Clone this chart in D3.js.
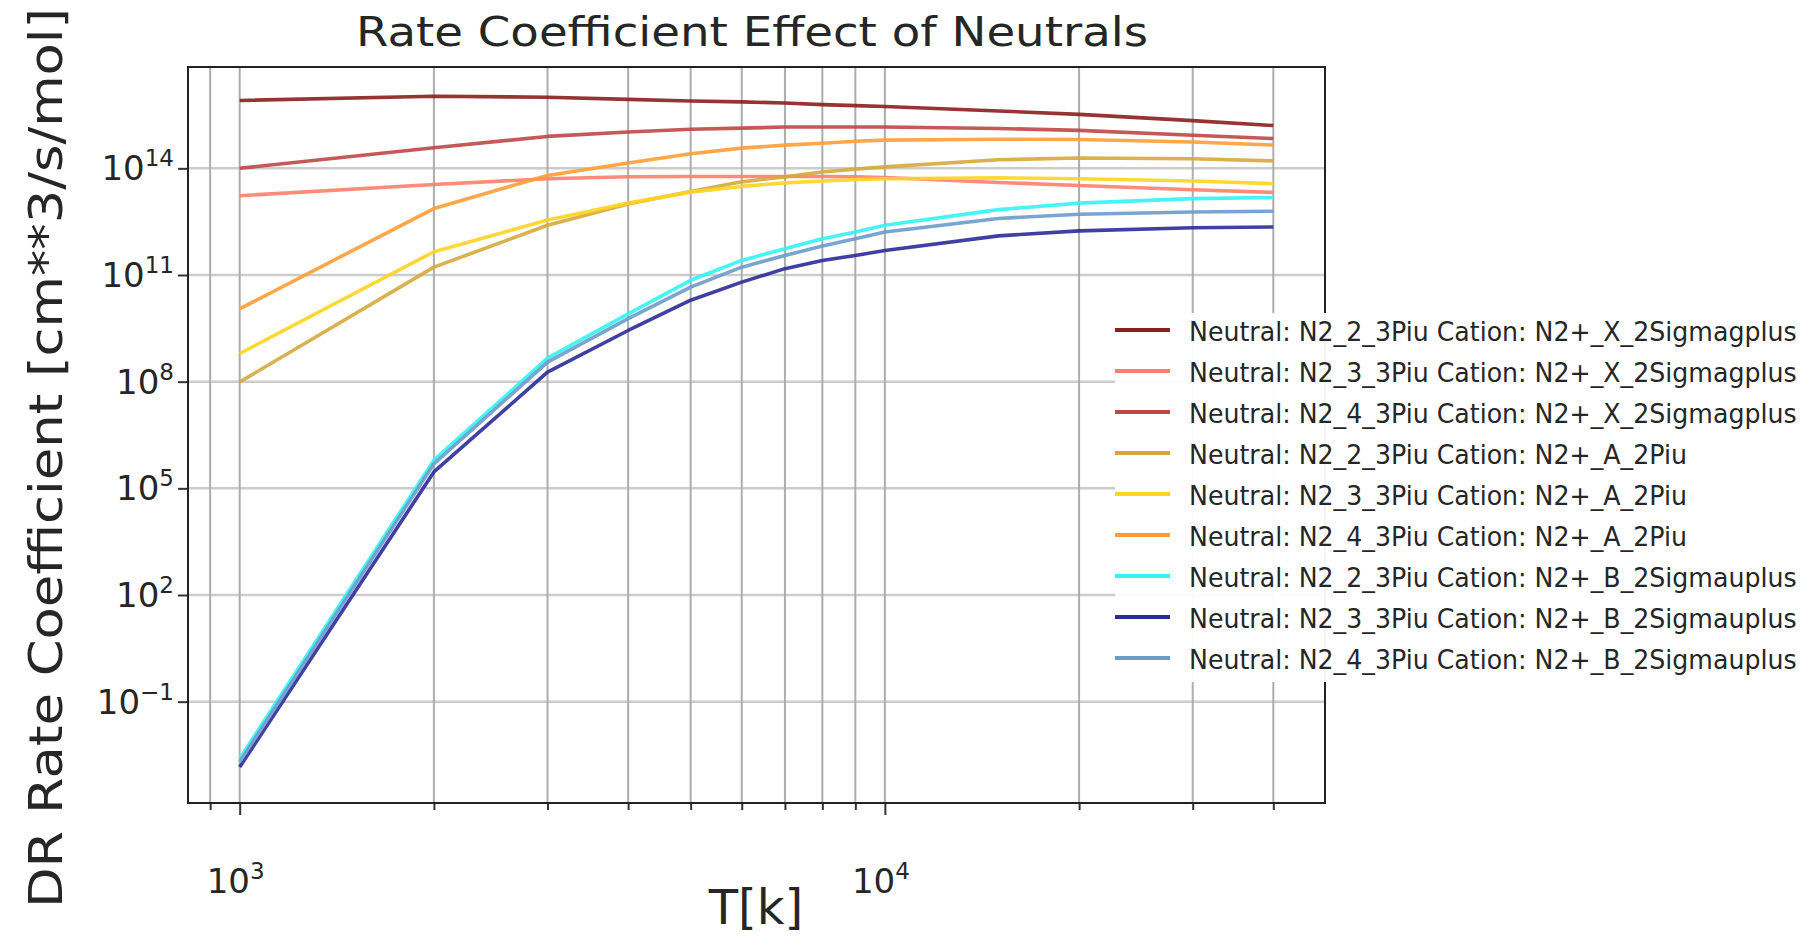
<!DOCTYPE html>
<html>
<head>
<meta charset="utf-8">
<script src="https://cdn.jsdelivr.net/npm/d3@7"></script>
<style>
  body { margin: 0; background: #fff; }
  text { font-family: "DejaVu Sans", sans-serif; fill: #262626; }
</style>
</head>
<body>
<svg id="chart" width="1813" height="937"></svg>
<script>
// temperatures [K]
const temps = [1000, 2000, 3000, 4000, 5000, 6000, 7000, 8000, 9000, 10000, 15000, 20000, 30000, 40000];

// DR rate coefficients, one array per neutral/cation pair
const n2_2_X = [8.1e15, 1.07e16, 1.0e16, 8.7e15, 7.8e15, 7.4e15, 6.9e15, 6.2e15, 5.8e15, 5.5e15, 4.1e15, 3.3e15, 2.2e15, 1.6e15];
const n2_3_X = [1.7e13, 3.5e13, 5.1e13, 5.8e13, 5.9e13, 5.9e13, 5.9e13, 5.9e13, 5.8e13, 5.5e13, 4.0e13, 3.3e13, 2.5e13, 2.1e13];
const n2_4_X = [1.0e14, 3.8e14, 7.9e14, 1.05e15, 1.26e15, 1.35e15, 1.45e15, 1.45e15, 1.45e15, 1.45e15, 1.32e15, 1.17e15, 8.5e14, 6.9e14];
const n2_2_A = [9.8e7, 1.66e11, 2.5e12, 1.0e13, 2.24e13, 4.17e13, 5.75e13, 7.9e13, 9.5e13, 1.1e14, 1.74e14, 1.95e14, 1.86e14, 1.62e14];
const n2_3_A = [6.2e8, 4.5e11, 3.5e12, 1.05e13, 2.14e13, 3.1e13, 3.9e13, 4.4e13, 4.8e13, 5.1e13, 5.4e13, 5.1e13, 4.4e13, 3.7e13];
const n2_4_A = [1.12e10, 7.4e12, 6.3e13, 1.41e14, 2.57e14, 3.7e14, 4.5e14, 5.1e14, 5.75e14, 6.2e14, 6.6e14, 6.5e14, 5.5e14, 4.5e14];
const n2_2_B = [2.5e-3, 6.2e5, 4.6e8, 8.1e9, 7.1e10, 2.57e11, 5.5e11, 1.05e12, 1.62e12, 2.5e12, 6.9e12, 1.05e13, 1.41e13, 1.51e13];
const n2_3_B = [1.45e-3, 2.9e5, 1.86e8, 2.75e9, 1.95e10, 6.3e10, 1.51e11, 2.57e11, 3.55e11, 4.9e11, 1.26e12, 1.74e12, 2.14e12, 2.24e12];
const n2_4_B = [2.0e-3, 4.9e5, 3.55e8, 5.9e9, 4.57e10, 1.66e11, 3.55e11, 6.5e11, 1.05e12, 1.62e12, 3.9e12, 5.1e12, 5.9e12, 6.2e12];

const seriesNames = [
  "Neutral: N2_2_3Piu Cation: N2+_X_2Sigmagplus",
  "Neutral: N2_3_3Piu Cation: N2+_X_2Sigmagplus",
  "Neutral: N2_4_3Piu Cation: N2+_X_2Sigmagplus",
  "Neutral: N2_2_3Piu Cation: N2+_A_2Piu",
  "Neutral: N2_3_3Piu Cation: N2+_A_2Piu",
  "Neutral: N2_4_3Piu Cation: N2+_A_2Piu",
  "Neutral: N2_2_3Piu Cation: N2+_B_2Sigmauplus",
  "Neutral: N2_3_3Piu Cation: N2+_B_2Sigmauplus",
  "Neutral: N2_4_3Piu Cation: N2+_B_2Sigmauplus"
];
const seriesValues = [n2_2_X, n2_3_X, n2_4_X, n2_2_A, n2_3_A, n2_4_A, n2_2_B, n2_3_B, n2_4_B];
const seriesColors = ["#8b1d1d", "#ff7f6c", "#bf4646", "#d6a83c", "#ffd422", "#ff9d36", "#33f3f3", "#2b2b98", "#6b9bcb"];

const xMajor = [1e3, 1e4];
const xMajorExp = ["3", "4"];
const xMinor = [900, 2000, 3000, 4000, 5000, 6000, 7000, 8000, 9000, 20000, 30000, 40000];
const yMajor = [1e-1, 1e2, 1e5, 1e8, 1e11, 1e14];
const yMajorExp = ["\u22121", "2", "5", "8", "11", "14"];

const plotLeft = 188, plotRight = 1325, plotTop = 67, plotBottom = 803;

const svg = d3.select("#chart");

// log axes with matplotlib-like 5% margins
const lx = [Math.log10(d3.min(temps)), Math.log10(d3.max(temps))];
const padX = (lx[1] - lx[0]) * 0.05;
const x = d3.scaleLog()
  .domain([Math.pow(10, lx[0] - padX), Math.pow(10, lx[1] + padX)])
  .range([plotLeft, plotRight]);

const y = d3.scaleLog()
  .domain([Math.pow(10, -3.85), Math.pow(10, 16.85)])
  .range([plotBottom, plotTop]);

// grid
const grid = svg.append("g");
grid.selectAll(".gy")
  .data(yMajor)
  .enter()
  .append("line")
  .attr("x1", plotLeft).attr("x2", plotRight)
  .attr("y1", d => y(d)).attr("y2", d => y(d))
  .attr("stroke", "#cccccc")
  .attr("stroke-width", 2.5);
grid.selectAll(".gx")
  .data(xMajor.concat(xMinor))
  .enter()
  .append("line")
  .attr("x1", d => x(d)).attr("x2", d => x(d))
  .attr("y1", plotTop).attr("y2", plotBottom)
  .attr("stroke", "#adadad")
  .attr("stroke-width", 2);

// axes (ticks only, labels drawn separately for superscripts)
const xAxisMajor = svg.append("g")
  .attr("transform", "translate(0," + plotBottom + ")")
  .call(d3.axisBottom(x).tickValues(xMajor).tickSize(12).tickFormat(""));
const xAxisMinor = svg.append("g")
  .attr("transform", "translate(0," + plotBottom + ")")
  .call(d3.axisBottom(x).tickValues(xMinor).tickSize(7).tickFormat(""));
const yAxis = svg.append("g")
  .attr("transform", "translate(" + plotLeft + ",0)")
  .call(d3.axisLeft(y).tickValues(yMajor).tickSize(10).tickFormat(""));
[xAxisMajor, xAxisMinor, yAxis].forEach(a => {
  a.select(".domain").remove();
  a.selectAll("line").attr("stroke", "#333").attr("stroke-width", 2);
});

// tick labels
const xl = svg.selectAll(".xl")
  .data(xMajor)
  .enter()
  .append("text")
  .attr("x", d => x(d) - 4)
  .attr("y", 893)
  .attr("text-anchor", "middle")
  .attr("font-size", 34);
xl.append("tspan").text("10");
xl.append("tspan").attr("font-size", 23).attr("dy", -14).text((d, i) => xMajorExp[i]);

const yl = svg.selectAll(".yl")
  .data(yMajor)
  .enter()
  .append("text")
  .attr("x", 174)
  .attr("y", d => y(d) + 12)
  .attr("text-anchor", "end")
  .attr("font-size", 34);
yl.append("tspan").text("10");
yl.append("tspan").attr("font-size", 23).attr("dy", -14).text((d, i) => yMajorExp[i]);

// lines
const line = d3.line()
  .x((d, i) => x(temps[i]))
  .y(d => y(d));

svg.append("g")
  .selectAll("path")
  .data(seriesValues)
  .enter()
  .append("path")
  .attr("d", d => line(d))
  .attr("fill", "none")
  .attr("stroke", (d, i) => seriesColors[i])
  .attr("stroke-width", 3.6)
  .attr("stroke-linejoin", "round")
  .attr("stroke-opacity", 0.9);

// frame
svg.append("rect")
  .attr("x", plotLeft).attr("y", plotTop)
  .attr("width", plotRight - plotLeft).attr("height", plotBottom - plotTop)
  .attr("fill", "none")
  .attr("stroke", "#222")
  .attr("stroke-width", 2);

// titles
svg.append("text")
  .attr("x", 752).attr("y", 46)
  .attr("text-anchor", "middle")
  .attr("font-size", 40)
  .attr("textLength", 792)
  .attr("lengthAdjust", "spacingAndGlyphs")
  .text("Rate Coefficient Effect of Neutrals");

svg.append("text")
  .attr("x", 756).attr("y", 924)
  .attr("text-anchor", "middle")
  .attr("font-size", 48)
  .text("T[k]");

svg.append("text")
  .attr("transform", "translate(62,458)rotate(-90)")
  .attr("text-anchor", "middle")
  .attr("font-size", 47)
  .attr("textLength", 900)
  .attr("lengthAdjust", "spacingAndGlyphs")
  .text("DR Rate Coefficient [cm**3/s/mol]");

// legend
const legend = svg.append("g");
legend.append("rect")
  .attr("x", 1115).attr("y", 313)
  .attr("width", 698).attr("height", 369)
  .attr("fill", "#fff")
  .attr("fill-opacity", 0.95);

const rows = legend.selectAll(".row")
  .data(seriesNames)
  .enter()
  .append("g")
  .attr("transform", (d, i) => "translate(0," + (330 + i * 41) + ")");
rows.append("line")
  .attr("x1", 1115).attr("x2", 1170)
  .attr("stroke", (d, i) => seriesColors[i])
  .attr("stroke-width", 4);
const labels = rows.append("text")
  .attr("x", 0)
  .attr("y", 11)
  .attr("font-size", 27)
  .text(d => d);

// the source text is horizontally squeezed; fit the longest label to its width
const natural = d3.max(labels.nodes(), n => n.getComputedTextLength());
const squeeze = 608 / natural;
labels.attr("transform", "translate(1189,0)scale(" + squeeze + ",1)");
</script>
</body>
</html>
